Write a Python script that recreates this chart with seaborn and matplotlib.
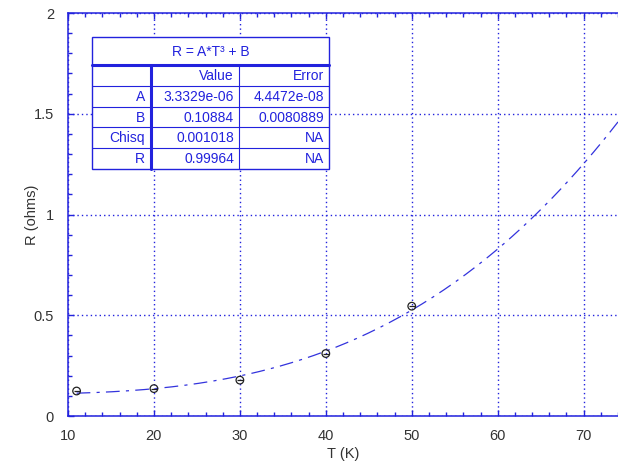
import numpy as np
import pandas as pd
import matplotlib
matplotlib.use("Agg")
import matplotlib.pyplot as plt
import seaborn as sns

# measured points
temps = [11, 20, 30, 40, 50]
resist = [0.124, 0.136, 0.178, 0.310, 0.545]

# fit results shown in the box
fit_title = "R = A*T\u00b3 + B"
fit_cols = ["", "Value", "Error"]
fit_rows = [
    ["A", "3.3329e-06", "4.4472e-08"],
    ["B", "0.10884", "0.0080889"],
    ["Chisq", "0.001018", "NA"],
    ["R", "0.99964", "NA"],
]
coef_a = 3.3329e-06
coef_b = 0.10884

BLUE = "#2222dd"
TXT = "#333333"

sns.set_style("white")
plt.rcParams["font.family"] = ["Liberation Sans", "DejaVu Sans"]


def main():
    fig = plt.figure(figsize=(6.18, 4.70), dpi=100)
    ax = fig.add_axes([68 / 618, 54 / 470, 550 / 618, 403 / 470])

    # fitted curve from the coefficients in the table
    t_fit = np.linspace(temps[0], 74, 200)
    fit = pd.DataFrame({"T": t_fit, "R": coef_a * t_fit ** 3 + coef_b})
    sns.lineplot(data=fit, x="T", y="R", ax=ax, color="#3333dd", lw=0.9,
                 dashes=False, zorder=3)
    ax.lines[-1].set_dashes((11, 5, 2.5, 5))

    pts = pd.DataFrame({"T": temps, "R": resist})
    sns.scatterplot(data=pts, x="T", y="R", ax=ax, marker="o", s=30,
                    facecolor="none", edgecolor="#222222", linewidth=0.9,
                    zorder=4)
    ax.scatter(temps, resist, marker="_", s=22, color="#222222",
               linewidths=0.9, zorder=4)

    ax.set_xlim(10, 74)
    ax.set_ylim(0, 2)
    ax.set_xticks(np.arange(10, 71, 10))
    ax.set_yticks([0, 0.5, 1, 1.5, 2])
    ax.set_yticklabels(["0", "0.5", "1", "1.5", "2"])
    ax.set_xticks(np.arange(10, 75, 2), minor=True)
    ax.set_yticks(np.arange(0, 2.01, 0.1), minor=True)
    ax.tick_params(which="both", direction="in", top=True, bottom=True,
                   left=True, right=False, color=BLUE, labelcolor=TXT,
                   labelsize=10.5)
    ax.tick_params(which="major", length=4.5, width=1)
    ax.tick_params(which="minor", length=3, width=1)
    ax.tick_params(axis="x", pad=9)
    ax.tick_params(axis="y", pad=10)

    ax.grid(True, which="major", color=BLUE, linestyle=(0, (1, 2.2)), lw=1)
    for side in ["left", "bottom", "top"]:
        ax.spines[side].set_color(BLUE)
        ax.spines[side].set_linewidth(1.1)
    ax.spines["right"].set_visible(False)

    ax.set_xlabel("T (K)", fontsize=10.5, color=TXT, labelpad=3)
    ax.set_ylabel("R (ohms)", fontsize=10.5, color=TXT, labelpad=-4)

    # fit results box, drawn in figure pixels
    ov = fig.add_axes([0, 0, 1, 1])
    ov.set_xlim(0, 618)
    ov.set_ylim(470, 0)
    ov.axis("off")
    left, right, top, bottom = 92, 329, 37, 169
    col_x = [left, 151, 239, right]
    row_y = [top, 65, 86, 107, 127, 148, bottom]
    ov.add_patch(plt.Rectangle((left, top), right - left, bottom - top,
                               facecolor="white", edgecolor=BLUE, lw=1))
    for y in row_y[2:-1]:
        ov.plot([left, right], [y, y], color=BLUE, lw=0.8)
    ov.plot([left, right], [row_y[1], row_y[1]], color=BLUE, lw=2.2)
    ov.plot([col_x[1], col_x[1]], [row_y[1], bottom], color=BLUE, lw=2.2)
    ov.plot([col_x[2], col_x[2]], [row_y[1], bottom], color=BLUE, lw=0.8)

    ov.text((left + right) / 2, (row_y[0] + row_y[1]) / 2 + 1, fit_title,
            ha="center", va="center", fontsize=10, color=BLUE)
    table = [fit_cols] + fit_rows
    for i, row in enumerate(table):
        yc = (row_y[i + 1] + row_y[i + 2]) / 2 + 0.5
        for j, cell in enumerate(row):
            ov.text(col_x[j + 1] - 5 - (1 if j == 0 else 0), yc, cell,
                    ha="right", va="center", fontsize=10, color=BLUE)

    fig.savefig("out.png", dpi=100)


if __name__ == "__main__":
    main()
